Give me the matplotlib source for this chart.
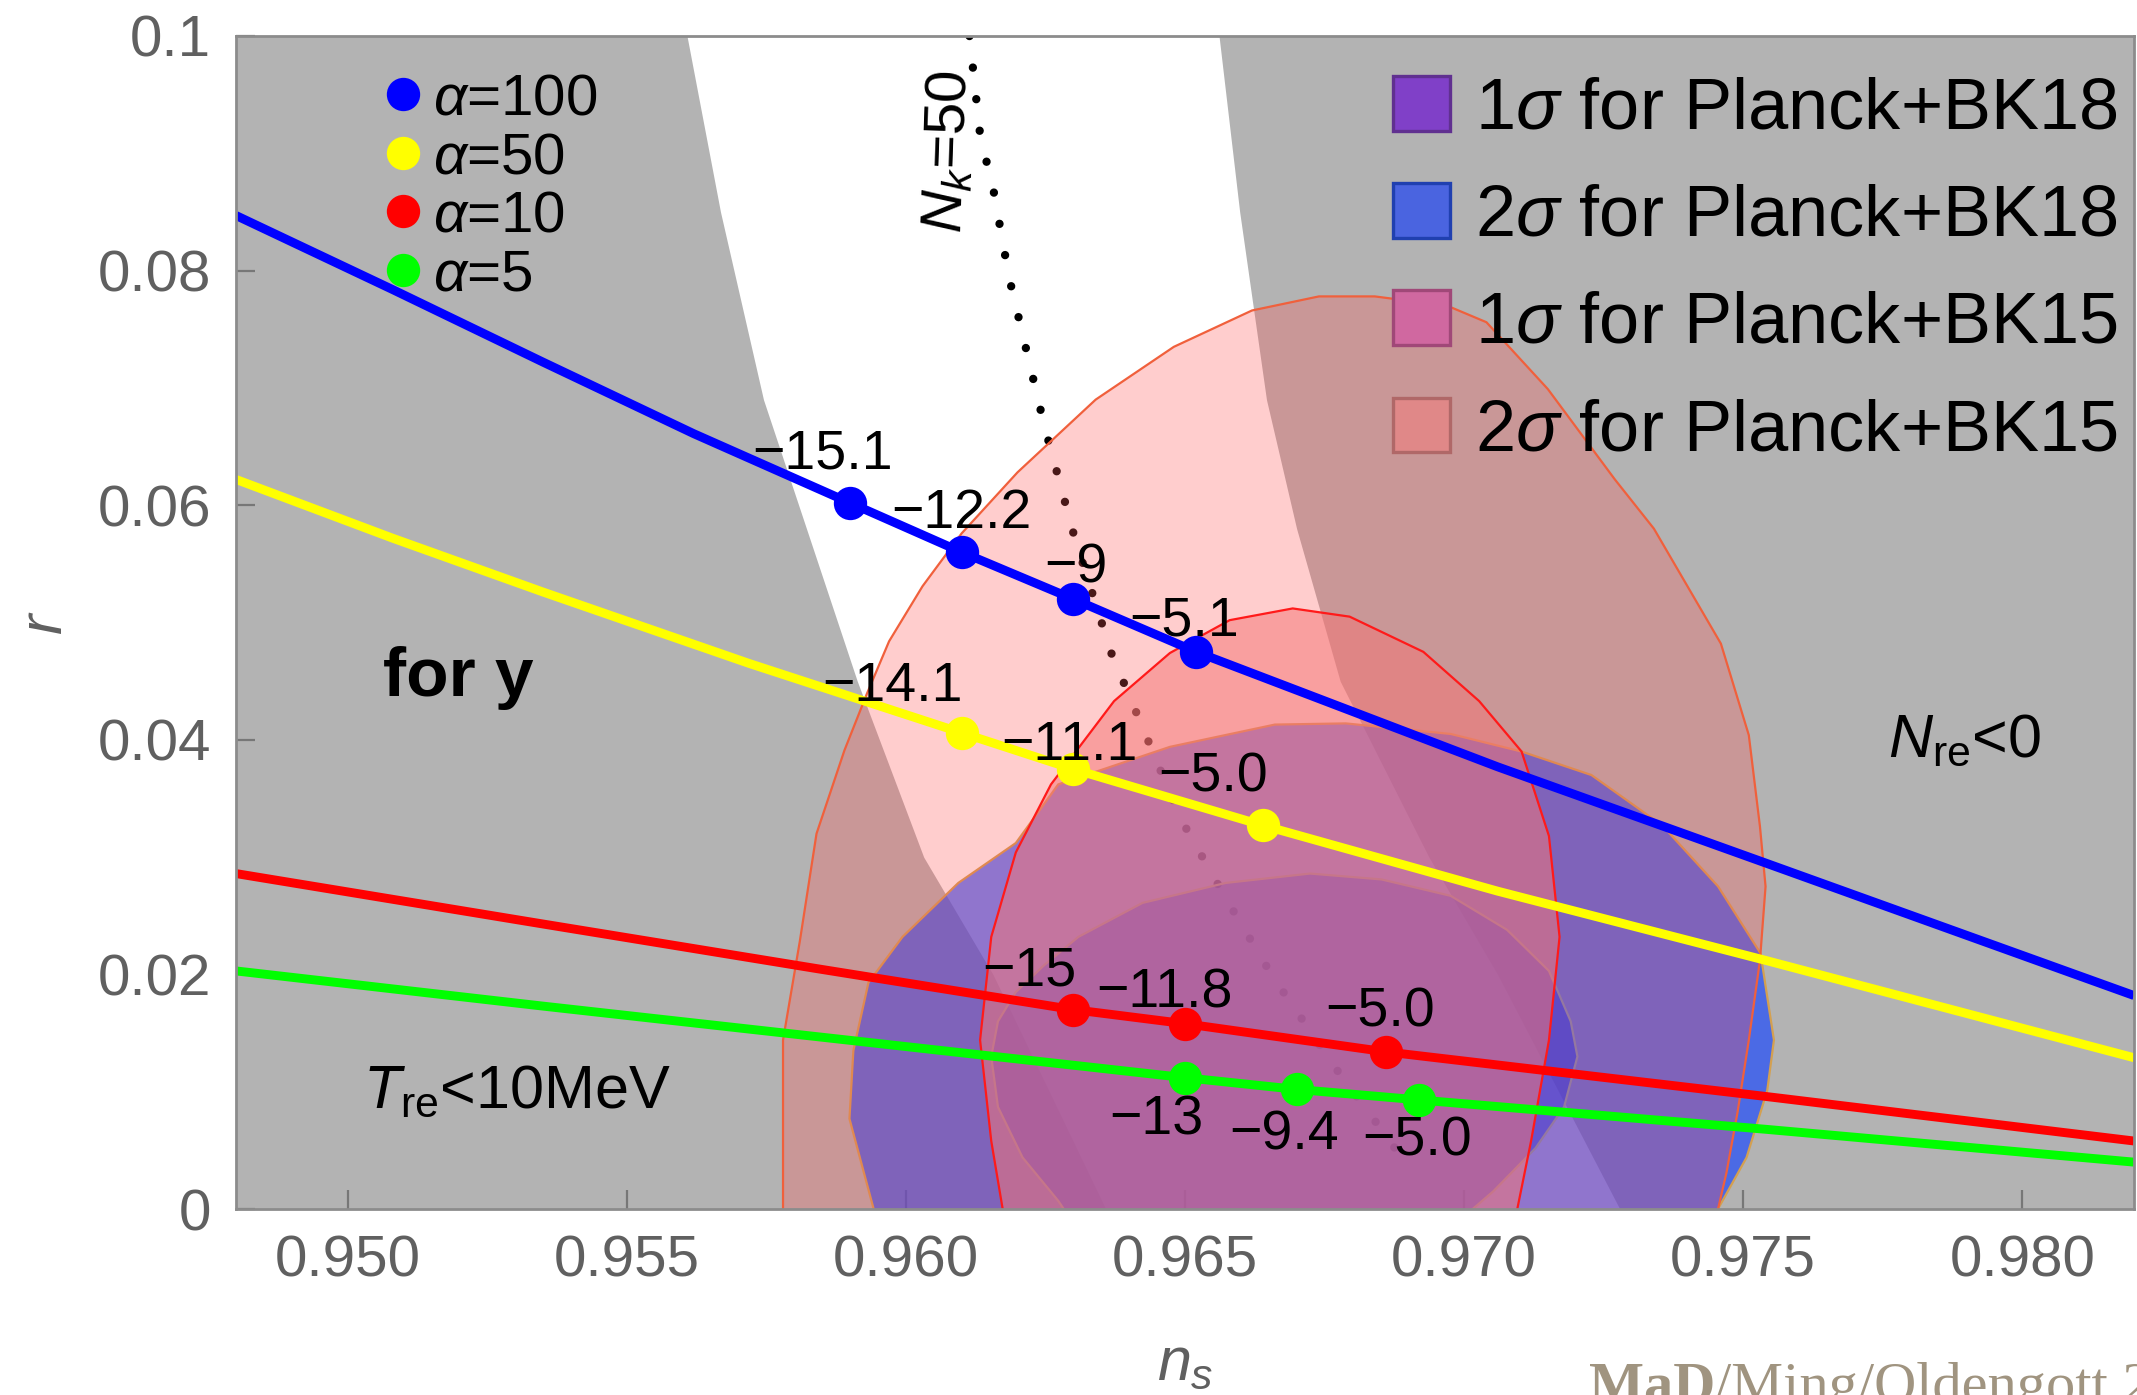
import matplotlib
matplotlib.use("Agg")
import matplotlib.pyplot as plt
from matplotlib.lines import Line2D
from matplotlib.patches import Patch

plt.rcParams["font.family"] = ["Liberation Sans", "DejaVu Sans"]
plt.rcParams["mathtext.fontset"] = "custom"
plt.rcParams["mathtext.rm"] = "Liberation Sans"
plt.rcParams["mathtext.it"] = "Liberation Sans:italic"
plt.rcParams["mathtext.bf"] = "Liberation Sans:bold"

# ---- values ----------------------------------------------------------
x_ticks = [0.950, 0.955, 0.960, 0.965, 0.970, 0.975, 0.980]
x_tick_labels = ["0.950", "0.955", "0.960", "0.965", "0.970", "0.975", "0.980"]
y_ticks = [0, 0.02, 0.04, 0.06, 0.08, 0.1]
y_tick_labels = ["0", "0.02", "0.04", "0.06", "0.08", "0.1"]

# white (allowed) band, edges in n_s at the given r
band_r = [0.0, 0.02, 0.03, 0.045, 0.058, 0.069, 0.085, 0.1]
band_left = [0.96358, 0.96156, 0.96032, 0.95913, 0.95822, 0.95745, 0.95668, 0.95608]
band_right = [0.97279, 0.97060, 0.96937, 0.96778, 0.96700, 0.96646, 0.96598, 0.96561]

# N_k = 50 dotted curve
nk50_ns = [0.96114, 0.96133, 0.96158, 0.96185, 0.96248, 0.96302, 0.96368,
           0.96429, 0.96492, 0.96573, 0.96656, 0.96776, 0.96839, 0.96891]
nk50_r = [0.1000, 0.0916, 0.0866, 0.0794, 0.0668, 0.0573, 0.0474,
          0.0405, 0.0333, 0.0265, 0.0199, 0.0116, 0.0076, 0.0042]

# Planck+BK15 2 sigma
bk15_2s_ns = [0.9578, 0.9578, 0.9581, 0.9584, 0.9589, 0.9593, 0.9597, 0.9603,
              0.9610, 0.9620, 0.9634, 0.9648, 0.9662, 0.9674, 0.9684, 0.9697,
              0.9704, 0.9715, 0.9727, 0.9734, 0.9746, 0.9751, 0.9753, 0.9754,
              0.9753, 0.9751, 0.9749, 0.9747, 0.9745]
bk15_2s_r = [-0.001, 0.0144, 0.0228, 0.0320, 0.0391, 0.0439, 0.0484, 0.0531,
             0.0576, 0.0628, 0.0690, 0.0735, 0.0766, 0.0778, 0.0778, 0.0770,
             0.0756, 0.0699, 0.0622, 0.0580, 0.0482, 0.0404, 0.0326, 0.0275,
             0.0212, 0.0144, 0.0083, 0.0031, -0.001]

# Planck+BK15 1 sigma
bk15_1s_ns = [0.96177, 0.96153, 0.96133, 0.96153, 0.96197, 0.96260, 0.96373,
              0.96473, 0.96580, 0.96693, 0.96795, 0.96927, 0.97027, 0.97103,
              0.97152, 0.97171, 0.97152, 0.97120, 0.97091]
bk15_1s_r = [-0.001, 0.0058, 0.0144, 0.0232, 0.0304, 0.0362, 0.0433,
             0.0474, 0.0502, 0.0512, 0.0505, 0.0475, 0.0433, 0.0390,
             0.0318, 0.0232, 0.0144, 0.0058, -0.001]

# Planck+BK18 2 sigma
bk18_2s_ns = [0.95948, 0.95899, 0.95906, 0.95933, 0.95994, 0.96094, 0.96197,
              0.96273, 0.96473, 0.96661, 0.96788, 0.96976, 0.97103, 0.97228,
              0.97355, 0.97455, 0.97531, 0.97555, 0.97543, 0.97506, 0.97443]
bk18_2s_r = [-0.001, 0.0077, 0.0135, 0.0193, 0.0232, 0.0278, 0.0312,
             0.0362, 0.0394, 0.0413, 0.0414, 0.0405, 0.0390, 0.0370,
             0.0327, 0.0275, 0.0218, 0.0144, 0.0101, 0.0044, -0.001]

# Planck+BK18 1 sigma
bk18_1s_ns = [0.96297, 0.96273, 0.96209, 0.96165, 0.96153, 0.96165, 0.96197,
              0.96248, 0.96309, 0.96424, 0.96573, 0.96724, 0.96852, 0.96976,
              0.97077, 0.97152, 0.97191, 0.97203, 0.97179, 0.97128, 0.97052,
              0.96991]
bk18_1s_r = [-0.001, 0.0007, 0.0044, 0.0087, 0.0130, 0.0160, 0.0185,
             0.0208, 0.0232, 0.0261, 0.0278, 0.0286, 0.0281, 0.0267,
             0.0238, 0.0203, 0.0160, 0.0130, 0.0087, 0.0052, 0.0015,
             -0.001]

# predictions for the four alpha values
blue_ns = [0.948, 0.9508, 0.9535, 0.9562, 0.9590, 0.9610, 0.9630, 0.9652,
           0.9706, 0.9754, 0.982]
blue_r = [0.0847, 0.0784, 0.0722, 0.0661, 0.0602, 0.0560, 0.0520, 0.0475,
          0.0377, 0.0295, 0.0182]
yellow_ns = [0.948, 0.9508, 0.9535, 0.9572, 0.9610, 0.9630, 0.9664, 0.9706,
             0.9754, 0.982]
yellow_r = [0.0622, 0.0572, 0.0526, 0.0465, 0.0406, 0.0375, 0.0327, 0.0271,
            0.0212, 0.0129]
red_ns = [0.948, 0.9535, 0.9584, 0.9630, 0.9650, 0.9686, 0.9754, 0.982]
red_r = [0.0286, 0.0243, 0.0205, 0.0170, 0.0158, 0.0134, 0.0096, 0.0058]
green_ns = [0.948, 0.9535, 0.9584, 0.9650, 0.9670, 0.9692, 0.9754, 0.982]
green_r = [0.0203, 0.0173, 0.0147, 0.0112, 0.0102, 0.0093, 0.0068, 0.0040]

# marked points and their labels
blue_pt_ns = [0.9590, 0.9610, 0.9630, 0.9652]
blue_pt_r = [0.0602, 0.0560, 0.0520, 0.0475]
blue_pt_lab = ["\u221215.1", "\u221212.2", "\u22129", "\u22125.1"]
yellow_pt_ns = [0.9610, 0.9630, 0.9664]
yellow_pt_r = [0.0406, 0.0375, 0.0327]
yellow_pt_lab = ["\u221214.1", "\u221211.1", "\u22125.0"]
red_pt_ns = [0.9630, 0.9650, 0.9686]
red_pt_r = [0.0170, 0.0158, 0.0134]
red_pt_lab = ["\u221215", "\u221211.8", "\u22125.0"]
green_pt_ns = [0.9650, 0.9670, 0.9692]
green_pt_r = [0.0112, 0.0102, 0.0093]
green_pt_lab = ["\u221213", "\u22129.4", "\u22125.0"]

alpha_names = ["100", "50", "10", "5"]
sigma_names = ["1$\\sigma$ for Planck+BK18", "2$\\sigma$ for Planck+BK18",
               "1$\\sigma$ for Planck+BK15", "2$\\sigma$ for Planck+BK15"]

# ---- figure -----------------------------------------------------------
fig = plt.figure(figsize=(10.685, 6.975), dpi=200)
ax = fig.add_axes([0.1104, 0.1333, 0.8882, 0.8409])
ax.set_facecolor("#b3b3b3")
ax.set_xlim(0.948, 0.982)
ax.set_ylim(0, 0.1)

ax.fill_betweenx(band_r, band_left, band_right, color="white", lw=0, zorder=1)
ax.plot(nk50_ns, nk50_r, color="black", lw=3.0, ls=(0, (0.01, 3.8)),
        dash_capstyle="round", zorder=1.5)

ax.fill(bk18_2s_ns, bk18_2s_r, facecolor=(0.094, 0.275, 1.0, 0.67),
        edgecolor="#d4a050", lw=0.8, zorder=2)
ax.fill(bk18_1s_ns, bk18_1s_r, facecolor=(0.0, 0.2, 1.0, 0.6),
        edgecolor="#6a88c0", lw=0.8, zorder=2.1)
ax.fill(bk15_2s_ns, bk15_2s_r, facecolor=(1.0, 0.325, 0.325, 0.29),
        edgecolor="#f0603c", lw=0.8, zorder=2.2)
ax.fill(bk15_1s_ns, bk15_1s_r, facecolor=(0.96, 0.46, 0.46, 0.52),
        edgecolor="#ff1a1a", lw=0.8, zorder=2.3)

series = [
    (blue_ns, blue_r, blue_pt_ns, blue_pt_r, blue_pt_lab, "#0000ff",
     [(-9.8, 12.2), (0, 8.8), (1, 5.9), (-4.4, 5.9)]),
    (yellow_ns, yellow_r, yellow_pt_ns, yellow_pt_r, yellow_pt_lab, "#ffff00",
     [(-25, 11.3), (-1.5, 3.4), (-18.2, 12.2)]),
    (red_ns, red_r, red_pt_ns, red_pt_r, red_pt_lab, "#ff0000",
     [(-15.7, 8.8), (-7.4, 5.9), (-2, 9.3)]),
    (green_ns, green_r, green_pt_ns, green_pt_r, green_pt_lab, "#00ff00",
     [(-10.3, -20.6), (-4.4, -21.6), (-1, -20.1)]),
]
for xs, ys, pxs, pys, labs, col, offs in series:
    ax.plot(xs, ys, color=col, lw=3.2, zorder=3, solid_capstyle="butt")
    ax.plot(pxs, pys, "o", color=col, ms=12, mew=0, zorder=4)
    for px, py, lab, off in zip(pxs, pys, labs, offs):
        ax.annotate(lab, (px, py), xytext=off, textcoords="offset points",
                    ha="center", va="baseline", fontsize=20, zorder=5)

# region labels
ax.text(0.95198, 0.0453, "for y", fontsize=25, fontweight="bold",
        ha="center", va="center", zorder=5)
ax.text(0.97897, 0.0399, "$N_\\mathrm{re}$<0", fontsize=22,
        ha="center", va="center", zorder=5)
ax.text(0.95303, 0.0100, "$T_\\mathrm{re}$<10MeV", fontsize=22,
        ha="center", va="center", zorder=5)
ax.text(0.96077, 0.0901, "$N_k$=50", fontsize=21, rotation=88,
        ha="center", va="center", zorder=5)

# legends
alpha_handles = [Line2D([], [], ls="none", marker="o", ms=12, mew=0, color=c)
                 for c in ["#0000ff", "#ffff00", "#ff0000", "#00ff00"]]
leg1 = ax.legend(alpha_handles, ["$\\alpha$=" + a for a in alpha_names],
                 loc="upper left", bbox_to_anchor=(0.0788, 0.969),
                 frameon=False, fontsize=21, handlelength=0.6,
                 handletextpad=0.21, labelspacing=0.08, borderpad=0,
                 borderaxespad=0)
leg1.set_zorder(6)
ax.add_artist(leg1)

sig_face = ["#8040c8", "#4a64e0", "#d068a0", "#e08888"]
sig_edge = ["#603090", "#2040b0", "#a04878", "#b06868"]
sig_handles = [Patch(facecolor=f, edgecolor=e, lw=1.2)
               for f, e in zip(sig_face, sig_edge)]
leg2 = ax.legend(sig_handles, sigma_names, loc="upper left",
                 bbox_to_anchor=(0.6096, 0.966), frameon=False, fontsize=26,
                 handlelength=0.79, handleheight=0.79, handletextpad=0.34,
                 labelspacing=0.55, borderpad=0, borderaxespad=0)
leg2.set_zorder(6)

# axes styling
ax.set_xticks(x_ticks)
ax.set_xticklabels(x_tick_labels)
ax.set_yticks(y_ticks)
ax.set_yticklabels(y_tick_labels)
ax.tick_params(direction="in", length=7, width=0.8, color="#777777",
               labelsize=21, labelcolor="#606060", pad=9,
               top=False, right=False)
for s in ax.spines.values():
    s.set_color("#8c8c8c")
    s.set_linewidth(1.0)
    s.set_zorder(7)

ax.set_xlabel("$n_s$", fontsize=22, color="#606060")
ax.set_ylabel("$r$", fontsize=22, color="#606060")
ax.xaxis.set_label_coords(0.5, -0.108)
ax.yaxis.set_label_coords(-0.085, 0.5)

# cut-off credit line at the bottom edge
fig.text(0.7436, -0.005, "MaD", fontsize=21, fontweight="bold",
         family="Liberation Serif", color="#a09480", va="baseline")
fig.text(0.8025, -0.005, "/Ming/Oldengott 2021", fontsize=21,
         family="Liberation Serif", color="#a09480", va="baseline")

fig.savefig("out.png", dpi=200)
